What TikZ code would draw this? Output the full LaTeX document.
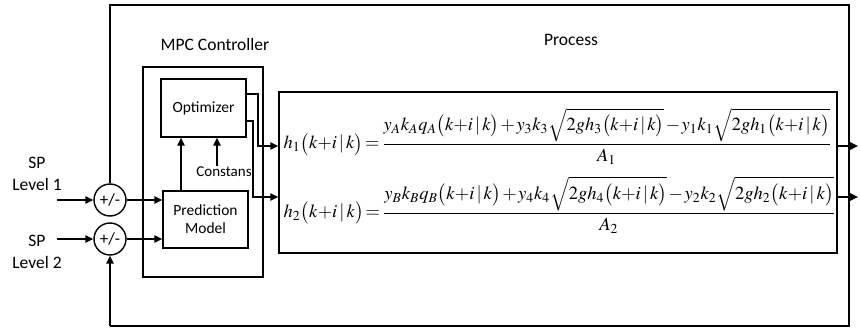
\documentclass[tikz,border=0pt]{standalone}
\usepackage{amsmath}
\usepackage{mathptmx}
\usepackage{graphicx}
\usepackage{fontspec}
\setmainfont{Carlito}
\usetikzlibrary{arrows.meta}
\newcommand{\kik}{\bigl(k{+}i\,|\,k\bigr)}
\begin{document}
\begin{tikzpicture}[x=1pt,y=-1pt,line width=1.4pt,
  blk/.style={draw,inner sep=0pt,align=center,font=\fontsize{15.5}{18}\selectfont},
  sumnode/.style={draw,circle,minimum size=32pt,inner sep=0pt,font=\fontsize{17}{18}\selectfont},
  lab/.style={inner sep=0pt,align=center,font=\fontsize{17.5}{22}\selectfont},
  eqn/.style={inner sep=0pt,anchor=base west},
  arr/.style={-{Triangle[length=8pt,width=7.5pt]}}]
\useasboundingbox (0,0) rectangle (860,331);
% labels
\node[lab] (mpclab) at (215,44) {MPC Controller};
\node[lab] (proclab) at (571,40) {Process};
\node[lab] (sp1) at (37,174) {SP\\Level 1};
\node[lab] (sp2) at (37,252) {SP\\Level 2};
% boxes
\node[draw,minimum width=120pt,minimum height=210pt] (mpc) at (203,172) {};
\node[blk,minimum width=85pt,minimum height=58pt] (opt) at (203.5,108) {Optimizer};
\node[blk,minimum width=85pt,minimum height=57pt] (pred) at (205.5,219.5) {Prediction\\Model};
\node[draw,minimum width=558pt,minimum height=161pt] (proc) at (558,172.5) {};
\node[sumnode] (c1) at (110,200) {+/-};
\node[sumnode] (c2) at (110,239) {+/-};
\node[inner sep=0pt,font=\fontsize{15}{17}\selectfont] (cons) at (224,172) {Constans};
% equations
\node[eqn] (eq1) at (283,149) {\resizebox{548pt}{!}{\thickmuskip=2mu\medmuskip=1.5mu$\displaystyle h_1\kik=\frac{y_Ak_Aq_A\kik+y_3k_3\sqrt{2gh_3\kik}-y_1k_1\sqrt{2gh_1\kik}}{A_1}$}};
\node[eqn] (eq2) at (283,218) {\resizebox{552pt}{!}{\thickmuskip=2mu\medmuskip=1.5mu$\displaystyle h_2\kik=\frac{y_Bk_Bq_B\kik+y_4k_4\sqrt{2gh_4\kik}-y_2k_2\sqrt{2gh_2\kik}}{A_2}$}};
% coordinates
\coordinate (in1) at (57,200);
\coordinate (in2) at (57,239);
\coordinate (tl) at (110,5);
\coordinate (tr) at (849,5);
\coordinate (br) at (849,326);
\coordinate (bl) at (110,326);
\coordinate (ax1) at (181,0);
\coordinate (ax2) at (217,0);
\coordinate (o1a) at (247,94);
\coordinate (o1b) at (258,146);
\coordinate (o2a) at (247,121);
\coordinate (o2b) at (253,197);
\coordinate (out1) at (858,146);
\coordinate (out2) at (858,197);
% connectors
\draw[arr] (in1) -- (c1);
\draw[arr] (in2) -- (c2);
\draw[arr] (c1.east) -- (c1.east -| pred.west);
\draw[arr] (c2.east) -- (c2.east -| pred.west);
\draw[arr] (ax1 |- pred.north) -- (ax1 |- opt.south);
\draw[arr] (ax2 |- cons.north) -- (ax2 |- opt.south);
\draw[arr] (o1a) -| (o1b) -- (o1b -| proc.west);
\draw[arr] (o2a) -| (o2b) -- (o2b -| proc.west);
\draw (c1.north) -- (tl) -- (tr) -- (br) -- (bl);
\draw[arr] (bl) -- (c2.south);
\draw[arr] (o1b -| proc.east) -- (out1);
\draw[arr] (o2b -| proc.east) -- (out2);
\end{tikzpicture}
\end{document}
